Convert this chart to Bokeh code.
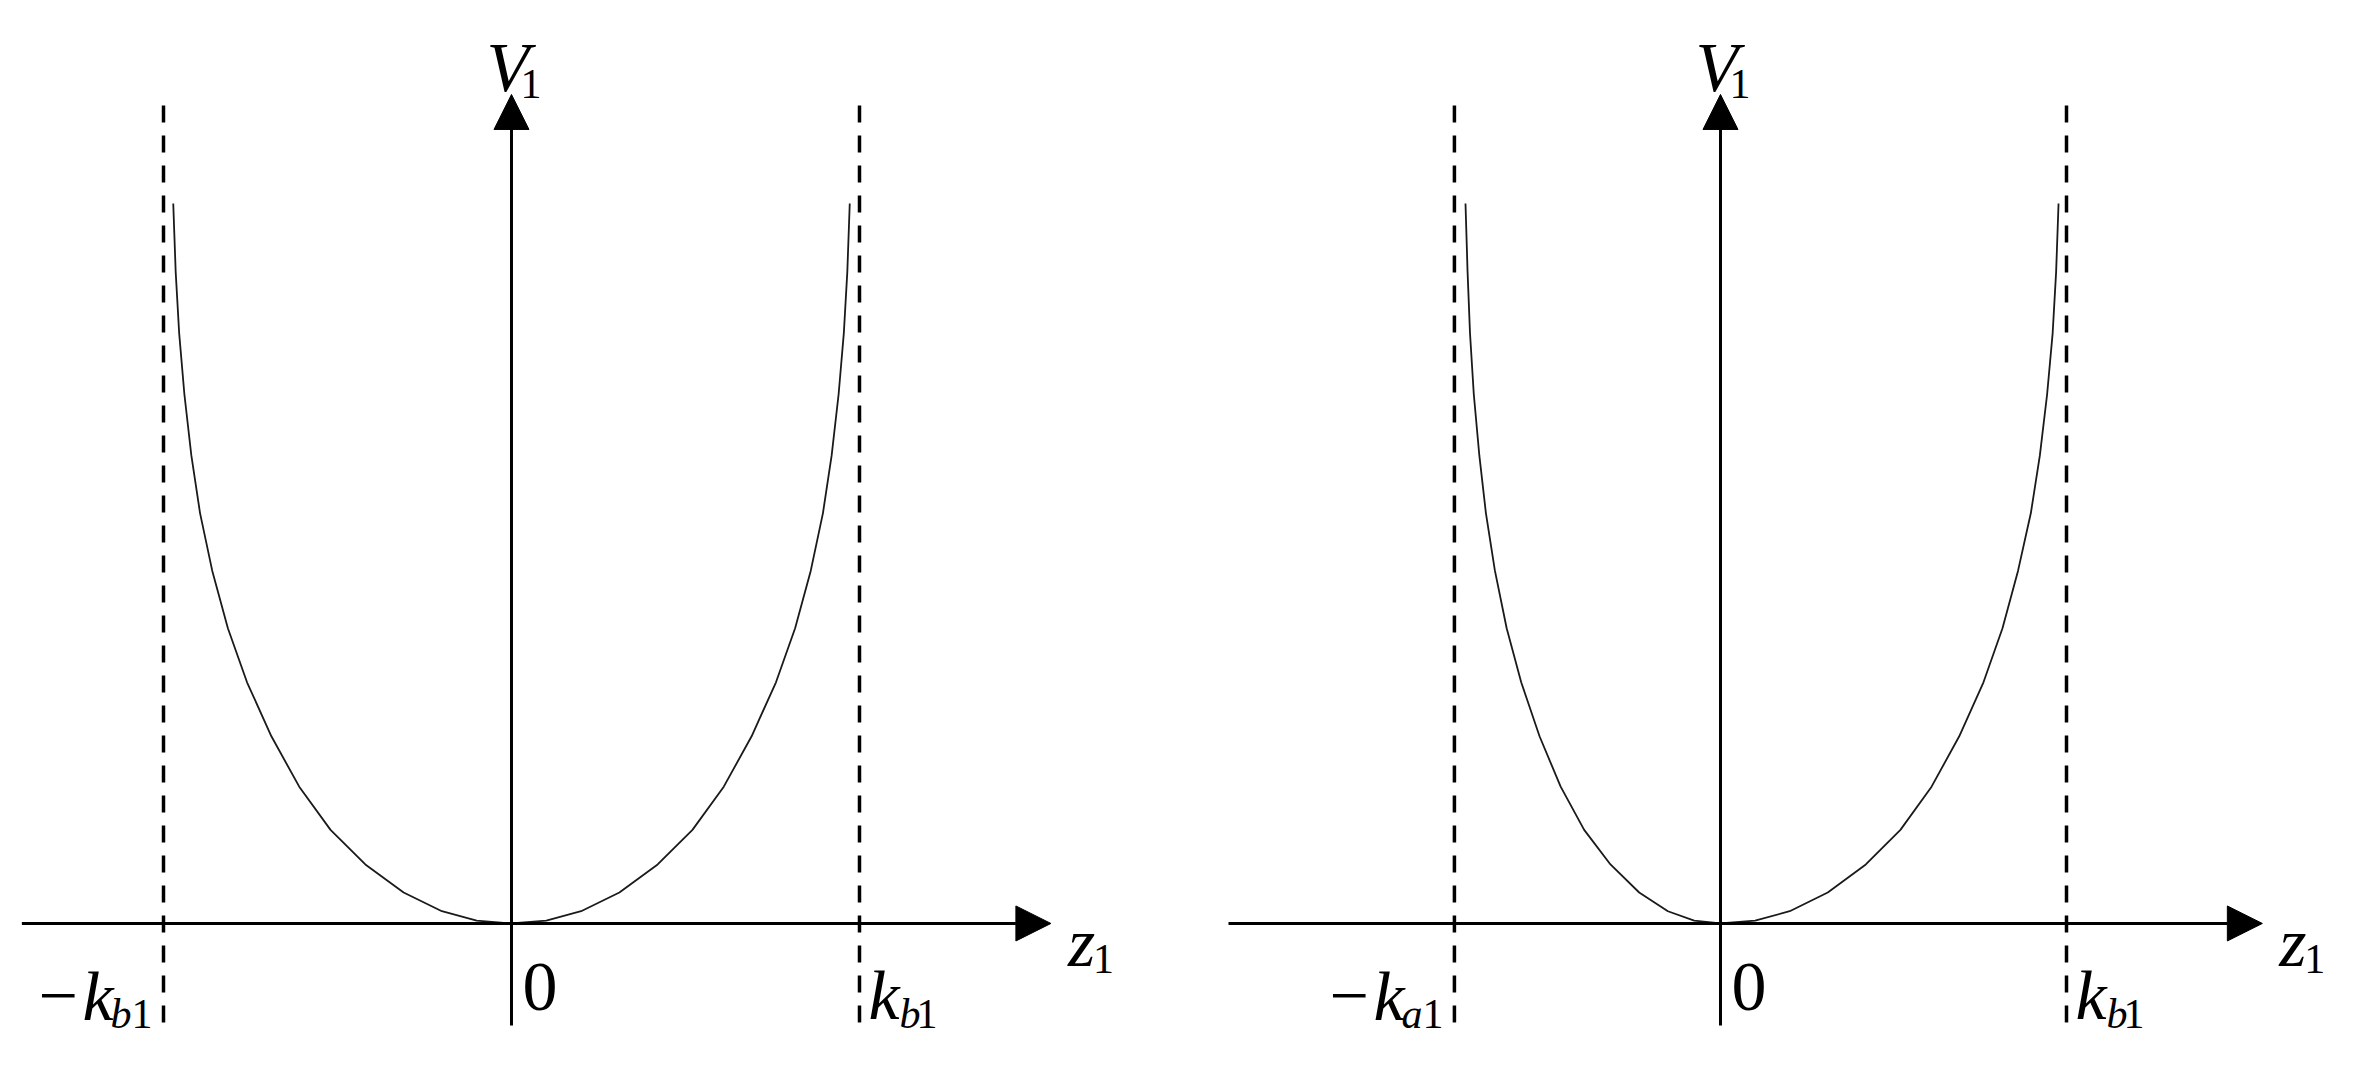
from bokeh.plotting import figure
from bokeh.models import Range1d, Arrow, NormalHead
from bokeh.layouts import row
from bokeh.core.properties import value
from bokeh.embed import file_html
from bokeh.resources import INLINE

# ---------------- data ----------------
# Left panel: symmetric barrier, bounds -k_b1 .. k_b1 (k_b1 = 1)
left_bounds = [-1.0, 1.0]
left_z = [-0.972, -0.965, -0.955, -0.940, -0.920, -0.895, -0.860, -0.815, -0.760,
          -0.690, -0.610, -0.520, -0.420, -0.310, -0.200, -0.100, 0.0,
          0.100, 0.200, 0.310, 0.420, 0.520, 0.610, 0.690, 0.760,
          0.815, 0.860, 0.895, 0.920, 0.940, 0.955, 0.965, 0.972]
left_v = [1.000, 0.905, 0.820, 0.735, 0.650, 0.570, 0.490, 0.410, 0.335,
          0.260, 0.190, 0.130, 0.082, 0.043, 0.017, 0.004, 0.0,
          0.004, 0.017, 0.043, 0.082, 0.130, 0.190, 0.260, 0.335,
          0.410, 0.490, 0.570, 0.650, 0.735, 0.820, 0.905, 1.000]

# Right panel: asymmetric barrier, bounds -k_a1 .. k_b1
right_bounds = [-0.769, 1.0]
right_z = [-0.737, -0.731, -0.724, -0.713, -0.697, -0.678, -0.652, -0.618, -0.576,
           -0.523, -0.462, -0.394, -0.318, -0.235, -0.152, -0.076, 0.0,
           0.100, 0.200, 0.310, 0.420, 0.520, 0.610, 0.690, 0.760,
           0.815, 0.860, 0.897, 0.923, 0.944, 0.960, 0.970, 0.977]
right_v = [1.000, 0.905, 0.820, 0.735, 0.650, 0.570, 0.490, 0.410, 0.335,
           0.260, 0.190, 0.130, 0.082, 0.043, 0.017, 0.004, 0.0,
           0.004, 0.017, 0.043, 0.082, 0.130, 0.190, 0.260, 0.335,
           0.410, 0.490, 0.570, 0.650, 0.735, 0.820, 0.905, 1.000]

left_tick_labels = [("−", "k", "b", "1"), ("0",), ("k", "b", "1")]
right_tick_labels = [("−", "k", "a", "1"), ("0",), ("k", "b", "1")]
y_axis_label = ("V", "1")
x_axis_label = ("z", "1")

FONT = value("Liberation Serif")
BIG = "70px"
SMALL = "42px"
W, H = 1174, 1053


def put(p, x, y, txt, dx, dy, size, italic):
    p.text(x=[x], y=[y], text=[txt], x_offset=dx, y_offset=dy,
           text_font=FONT, text_font_size=size,
           text_font_style="italic" if italic else "normal",
           text_color="black", text_align="left", text_baseline="alphabetic")


def panel(xr, z, v, bounds, ticks, x_ext, y_ext):
    p = figure(width=W, height=H, output_backend="svg", toolbar_location=None,
               x_axis_location=None, y_axis_location=None,
               x_range=Range1d(*xr), y_range=Range1d(-0.1806, 1.2819),
               min_border=0, outline_line_color=None,
               background_fill_color="white", border_fill_color="white")
    p.grid.visible = False

    # dashed bounds
    for b in bounds:
        p.line(x=[b, b], y=[-0.1375, 1.147], line_color="black",
               line_width=3.5, line_dash="17 13")

    # axes with arrows
    p.add_layout(Arrow(x_start=x_ext[0], y_start=0, x_end=x_ext[1], y_end=0,
                       line_width=3, line_color="black",
                       end=NormalHead(size=35, fill_color="black", line_color="black", line_width=1)))
    p.add_layout(Arrow(x_start=0, y_start=y_ext[0], x_end=0, y_end=y_ext[1],
                       line_width=3, line_color="black",
                       end=NormalHead(size=35, fill_color="black", line_color="black", line_width=1)))

    # curve
    p.line(x=z, y=v, line_color="#1a1a1a", line_width=1.8, line_join="round")

    # axis names
    put(p, 0, y_ext[1], y_axis_label[0], -25, -27, BIG, True)
    put(p, 0, y_ext[1], y_axis_label[1], 9, -10, SMALL, False)
    put(p, x_ext[1], 0, x_axis_label[0], 17, 19, BIG, True)
    put(p, x_ext[1], 0, x_axis_label[1], 42, 36, SMALL, False)

    # tick labels
    neg, zero, pos = ticks
    put(p, bounds[0], 0, neg[0], -125, 73, BIG, False)
    put(p, bounds[0], 0, neg[1], -81, 73, BIG, True)
    put(p, bounds[0], 0, neg[2], -53, 91, SMALL, True)
    put(p, bounds[0], 0, neg[3], -32, 91, SMALL, False)
    put(p, 0, 0, zero[0], 11, 64, BIG, False)
    put(p, bounds[1], 0, pos[0], 9, 72, BIG, True)
    put(p, bounds[1], 0, pos[1], 40, 91, SMALL, True)
    put(p, bounds[1], 0, pos[2], 57, 91, SMALL, False)
    return p


left = panel((-1.4684, 1.9052), left_z, left_v, left_bounds, left_tick_labels,
             (-1.407, 1.550), (-0.1417, 1.1514))
right = panel((-1.578, 1.815), right_z, right_v, right_bounds, right_tick_labels,
              (-1.422, 1.566), (-0.1417, 1.1514))

layout = row(left, right, spacing=0)
open("out.html", "w").write(file_html(layout, INLINE))
